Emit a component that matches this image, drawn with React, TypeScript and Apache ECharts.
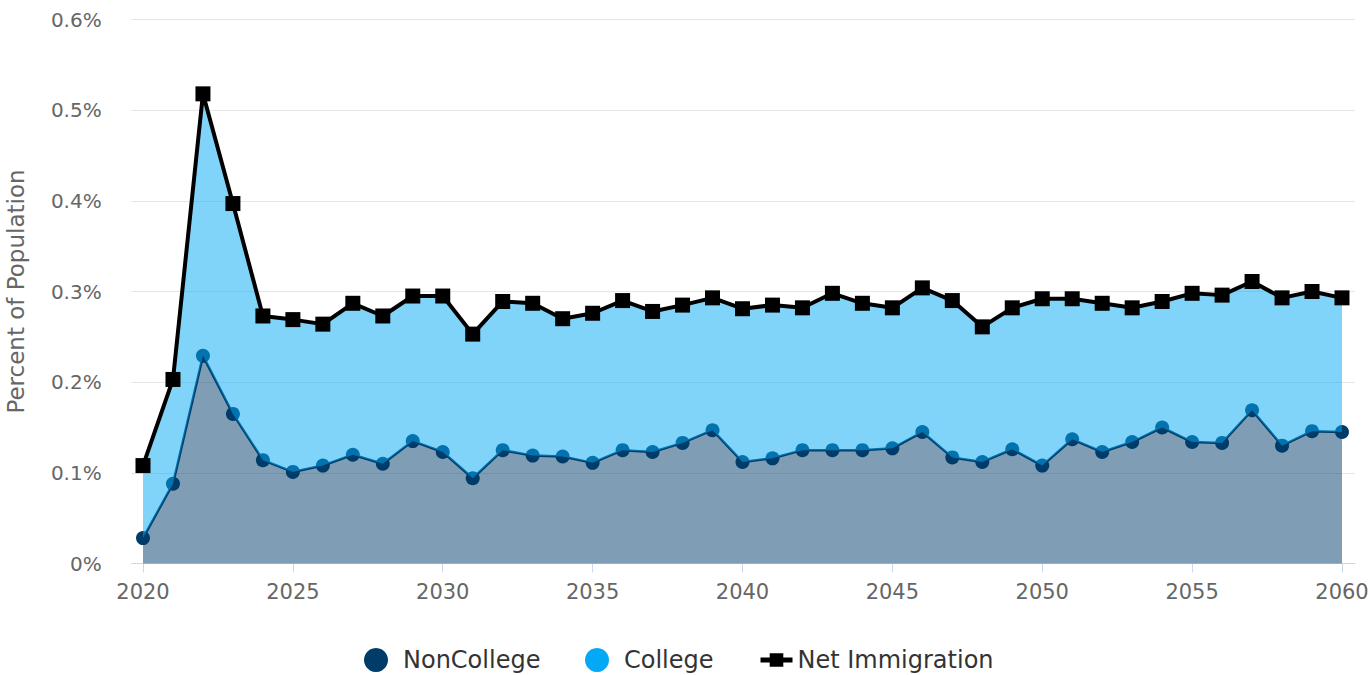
import React, { useEffect, useRef } from "react";
import * as echarts from "echarts";

const years = [
  2020, 2021, 2022, 2023, 2024, 2025, 2026, 2027, 2028, 2029,
  2030, 2031, 2032, 2033, 2034, 2035, 2036, 2037, 2038, 2039,
  2040, 2041, 2042, 2043, 2044, 2045, 2046, 2047, 2048, 2049,
  2050, 2051, 2052, 2053, 2054, 2055, 2056, 2057, 2058, 2059, 2060,
];

const nonCollege = [
  0.028, 0.088, 0.229, 0.165, 0.114, 0.101, 0.108, 0.120, 0.110, 0.135,
  0.123, 0.094, 0.125, 0.119, 0.118, 0.111, 0.125, 0.123, 0.133, 0.147,
  0.112, 0.116, 0.125, 0.125, 0.125, 0.127, 0.145, 0.117, 0.112, 0.126,
  0.108, 0.137, 0.123, 0.134, 0.150, 0.134, 0.133, 0.169, 0.130, 0.146, 0.145,
];

const college = [
  0.080, 0.115, 0.289, 0.232, 0.159, 0.168, 0.156, 0.167, 0.163, 0.160,
  0.172, 0.159, 0.164, 0.168, 0.152, 0.165, 0.165, 0.155, 0.152, 0.146,
  0.169, 0.169, 0.157, 0.173, 0.162, 0.155, 0.159, 0.173, 0.149, 0.156,
  0.184, 0.155, 0.164, 0.148, 0.139, 0.164, 0.163, 0.142, 0.163, 0.154, 0.148,
];

const netImmigration = [
  0.108, 0.203, 0.518, 0.397, 0.273, 0.269, 0.264, 0.287, 0.273, 0.295,
  0.295, 0.253, 0.289, 0.287, 0.270, 0.276, 0.290, 0.278, 0.285, 0.293,
  0.281, 0.285, 0.282, 0.298, 0.287, 0.282, 0.304, 0.290, 0.261, 0.282,
  0.292, 0.292, 0.287, 0.282, 0.289, 0.298, 0.296, 0.311, 0.293, 0.300, 0.293,
];

const xTicks = [2020, 2025, 2030, 2035, 2040, 2045, 2050, 2055, 2060];

const FONT = "DejaVu Sans";
const NAVY = "#003c69";
const LIGHT = "#03a9f4";

export default function App() {
  const ref = useRef<HTMLDivElement>(null);
  useEffect(() => {
    if (!ref.current) return;
    const chart = echarts.init(ref.current, undefined, { renderer: "svg" });
    // value first so that stacking happens on the value dimension
    const pair = (arr: number[]) => years.map((y, i) => [arr[i], y]);
    const legendText = { fontSize: 24, color: "#333", fontFamily: FONT };
    chart.setOption({
      animation: false,
      textStyle: { fontFamily: FONT },
      grid: {
        left: 131.7, right: 14, top: 19.5, bottom: 111.5,
        containLabel: false, outerBoundsMode: "none",
      },
      legend: [
        {
          data: [{ name: "NonCollege", icon: "circle" }],
          left: 364, top: 648, itemWidth: 44, itemHeight: 24,
          symbolKeepAspect: true, textStyle: legendText, padding: 0,
        },
        {
          data: [{ name: "College", icon: "circle" }],
          left: 585, top: 648, itemWidth: 44, itemHeight: 24,
          symbolKeepAspect: true, textStyle: legendText, padding: 0,
        },
        {
          data: [{
            name: "Net Immigration",
            lineStyle: { width: 5, color: "#000" },
            itemStyle: { color: "#000" },
          }],
          left: 758, top: 648, itemWidth: 32, itemHeight: 17,
          textStyle: legendText, padding: 0,
        },
      ],
      xAxis: {
        type: "value",
        min: 2019.623,
        max: 2060.434,
        splitLine: { show: false },
        axisLine: { show: true, lineStyle: { color: "#ccd6eb", width: 1 } },
        axisTick: { show: true, customValues: xTicks, length: 9, lineStyle: { color: "#ccd6eb", width: 1 } },
        axisLabel: {
          customValues: xTicks,
          formatter: (v: number) => String(v),
          fontSize: 21,
          color: "#666",
          margin: 18,
          fontFamily: FONT,
        },
      },
      yAxis: {
        type: "value",
        min: 0,
        max: 0.6,
        interval: 0.1,
        name: "Percent of Population",
        nameLocation: "middle",
        nameGap: 104,
        nameTextStyle: { fontSize: 23, color: "#666", fontFamily: FONT },
        axisLine: { show: false },
        axisTick: { show: false },
        splitLine: { lineStyle: { color: "#e6e6e6", width: 1 } },
        axisLabel: {
          formatter: (v: number) => `${Math.round(v * 10) / 10}%`,
          fontSize: 20,
          color: "#666",
          margin: 30,
          fontFamily: FONT,
        },
      },
      series: [
        {
          name: "NonCollege",
          type: "line",
          stack: "total",
          z: 2,
          encode: { x: 1, y: 0 },
          data: pair(nonCollege),
          symbol: "circle",
          symbolSize: 14,
          itemStyle: { color: NAVY },
          lineStyle: { color: NAVY, width: 2.5 },
          areaStyle: { color: NAVY, opacity: 0.5 },
        },
        {
          name: "College",
          type: "line",
          stack: "total",
          z: 3,
          encode: { x: 1, y: 0 },
          data: pair(college),
          showSymbol: false,
          symbol: "circle",
          itemStyle: { color: LIGHT },
          lineStyle: { color: LIGHT, width: 2 },
          areaStyle: { color: LIGHT, opacity: 0.5 },
        },
        {
          name: "Net Immigration",
          type: "line",
          z: 4,
          encode: { x: 1, y: 0 },
          data: pair(netImmigration),
          symbol: "rect",
          symbolSize: 15,
          itemStyle: { color: "#000" },
          lineStyle: { color: "#000", width: 4 },
        },
      ],
    });
    return () => chart.dispose();
  }, []);
  return <div ref={ref} style={{ width: 1369, height: 675, position: "absolute", left: 0, top: 0 }} />;
}
